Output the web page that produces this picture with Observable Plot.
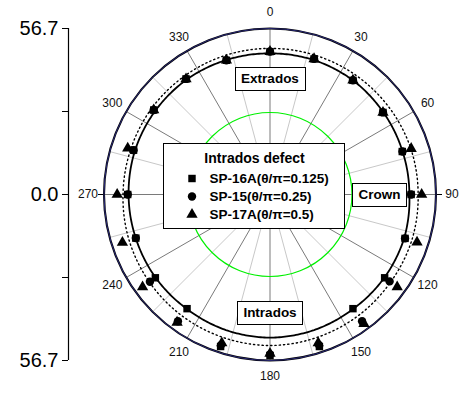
<!DOCTYPE html>
<html>
<head>
<meta charset="utf-8">
<script src="https://cdn.jsdelivr.net/npm/d3@7"></script>
<script src="https://cdn.jsdelivr.net/npm/@observablehq/plot@0.6"></script>
<style>
  body { margin: 0; background: #fff; }
  #chart svg { display: block; }
</style>
</head>
<body>
<div id="chart"></div>
<script>
// Measurement angles, degrees clockwise from the extrados (top)
const angles = [0, 18, 36, 54, 72, 90, 108, 126, 144, 162, 180, 198, 216, 234, 252, 270, 288, 306, 324, 342];

// Radial readings per specimen at each angle
const sp16A = [48.8, 48.7, 48.2, 47.7, 47.5, 48.2, 48.5, 48.4, 48.2, 54.6, 55.0, 54.6, 48.2, 48.4, 48.2, 48.6, 49.0, 49.1, 48.8, 48.2];
const sp15  = [48.8, 48.7, 48.2, 47.7, 47.6, 48.2, 48.5, 50.5, 53.5, 54.0, 54.6, 54.0, 53.5, 50.7, 48.2, 48.6, 49.0, 49.1, 48.8, 48.2];
const sp17A = [48.8, 48.7, 48.2, 47.7, 50.7, 51.8, 52.8, 53.7, 54.6, 53.3, 54.3, 53.3, 54.0, 53.8, 53.0, 52.2, 51.1, 49.1, 48.8, 48.2];

// Reference profiles (solid and dotted outlines)
const solidProfile  = [48.2, 48.3, 48.2, 47.8, 47.6, 47.6, 48.2, 48.3, 48.3, 48.7, 48.9, 48.7, 48.3, 48.3, 48.2, 48.3, 48.5, 48.5, 48.5, 48.3];
const dottedProfile = [49.9, 50.0, 50.2, 50.4, 50.6, 50.6, 50.9, 50.9, 51.2, 51.4, 51.6, 51.4, 51.2, 50.9, 50.6, 50.2, 50.0, 50.0, 49.9, 49.9];

// Inner reference ring
const referenceRing = 28;

// Radial axis
const radialMax = 56.7;
const radialTicks = [-56.7, -28.35, 0, 28.35, 56.7];
const radialTickLabels = ["56.7", "", "0.0", "", "56.7"];

// Angular grid and labels
const angleGrid = d3.range(0, 360, 15);
const angleLabels = [0, 30, 60, 90, 120, 150, 180, 210, 240, 270, 300, 330];
const angleTickMarks = [90, 270];

// Series legend
const legendTitle = "Intrados defect";
const seriesNames = ["SP-16A(θ/π=0.125)", "SP-15(θ/π=0.25)", "SP-17A(θ/π=0.5)"];
const seriesSymbols = ["square", "circle", "triangle"];

// Region annotations
const regionNames = ["Extrados", "Crown", "Intrados"];
const regionAngles = [0, 90, 180];
const regionRadii = [39.6, 37.4, 40.2];

// ---- layout ----
const W = 460, H = 394;
const cx = 269.5, cy = 194, R = 166, axisX = 68;
const unit = radialMax / R;               // data units per pixel
const xMin = -(cx - axisX) * unit;
const labelR = 182 * unit;
const tickLen = 6 * unit;

const rad = Math.PI / 180;
const px = (a, v) => v * Math.sin(a * rad);
const py = (a, v) => v * Math.cos(a * rad);

// Closed curve that joins successive vertices linearly in (angle, radius)
// about the plot centre, so segments follow the polar grid.
function curvePolarClosed(context) {
  let pts = [];
  return {
    areaStart() {}, areaEnd() {},
    lineStart() { pts = []; },
    point(x, y) { pts.push([x, y]); },
    lineEnd() {
      const n = pts.length;
      if (!n) return;
      const pol = pts.map(([x, y]) => [Math.atan2(x - cx, cy - y), Math.hypot(x - cx, y - cy)]);
      const steps = 24;
      context.moveTo(pts[0][0], pts[0][1]);
      for (let i = 0; i < n; ++i) {
        const [a0, r0] = pol[i];
        const [a1, r1] = pol[(i + 1) % n];
        let da = a1 - a0;
        while (da > Math.PI) da -= 2 * Math.PI;
        while (da <= -Math.PI) da += 2 * Math.PI;
        for (let k = 1; k <= steps; ++k) {
          const t = k / steps;
          const a = a0 + da * t, r = r0 + (r1 - r0) * t;
          context.lineTo(cx + r * Math.sin(a), cy - r * Math.cos(a));
        }
      }
      context.closePath();
    }
  };
}

// point table for the three specimens (drawn triangle, circle, square order)
const seriesValues = [sp16A, sp15, sp17A];
const points = [2, 1, 0].flatMap(s => angles.map((a, i) => ({series: seriesNames[s], angle: a, value: seriesValues[s][i]})));

const legendBox = {left: 163.5, top: 143.5, width: 181, height: 85};
const legendRows = [178, 196, 214];
const top0 = cy - R;

const plot = Plot.plot({
  width: W,
  height: H,
  marginLeft: axisX,
  marginRight: W - cx - R,
  marginTop: cy - R,
  marginBottom: H - cy - R,
  style: {fontFamily: "'Liberation Sans', Arial, sans-serif", fontSize: "12px", overflow: "visible", background: "white"},
  x: {domain: [xMin, radialMax], axis: null},
  y: {domain: [-radialMax, radialMax], axis: null},
  r: {type: "linear", domain: [0, radialMax], range: [0, R]},
  symbol: {domain: seriesNames, range: seriesSymbols},
  marks: [
    // radial axis on the left
    Plot.ruleX([xMin], {y1: -radialMax, y2: radialMax, stroke: "black", strokeWidth: 1.2}),
    Plot.axisY(radialTicks, {
      anchor: "left",
      tickSize: 6,
      tickPadding: 4,
      fontSize: 20,
      tickFormat: d => radialTickLabels[radialTicks.indexOf(d)],
      label: null,
      stroke: "black"
    }),
    // angular grid spokes
    Plot.link(angleGrid.filter(a => a % 30 !== 0), {
      x1: () => 0, y1: () => 0,
      x2: a => px(a, radialMax), y2: a => py(a, radialMax),
      stroke: "#c8c8c8", strokeWidth: 1
    }),
    Plot.link(angleGrid.filter(a => a % 30 === 0), {
      x1: () => 0, y1: () => 0,
      x2: a => px(a, radialMax), y2: a => py(a, radialMax),
      stroke: "#7a7a7a", strokeWidth: 1
    }),
    // ticks on the outer circle
    Plot.link(angleTickMarks, {
      x1: a => px(a, radialMax), y1: a => py(a, radialMax),
      x2: a => px(a, radialMax + tickLen), y2: a => py(a, radialMax + tickLen),
      stroke: "black", strokeWidth: 1
    }),
    // inner reference ring
    Plot.dot([referenceRing], {x: () => 0, y: () => 0, r: d => d, stroke: "#00f000", strokeWidth: 1.2, fill: "none"}),
    // outer boundary
    Plot.dot([radialMax], {x: () => 0, y: () => 0, r: d => d, stroke: "black", strokeWidth: 2.1, fill: "none"}),
    Plot.dot([radialMax], {x: () => 0, y: () => 0, r: d => d, stroke: "#3a3aa8", strokeWidth: 0.7, fill: "none"}),
    // angle labels
    Plot.text(angleLabels, {
      x: a => px(a, labelR), y: a => py(a, labelR),
      text: a => String(a), fontSize: 12, fill: "#111"
    }),
    // profiles
    Plot.line(angles, {
      x: (a, i) => px(a, dottedProfile[i]), y: (a, i) => py(a, dottedProfile[i]),
      curve: curvePolarClosed, stroke: "black", strokeWidth: 1.4, strokeDasharray: "1.3,3"
    }),
    Plot.line(angles, {
      x: (a, i) => px(a, solidProfile[i]), y: (a, i) => py(a, solidProfile[i]),
      curve: curvePolarClosed, stroke: "black", strokeWidth: 1.8
    }),
    // specimen readings
    Plot.dot(points, {
      x: d => px(d.angle, d.value), y: d => py(d.angle, d.value),
      symbol: "series", fill: "black", r: 4.2
    }),
    // region annotations
    Plot.text(regionNames, {
      x: (d, i) => px(regionAngles[i], regionRadii[i]), y: (d, i) => py(regionAngles[i], regionRadii[i]),
      text: d => d, fontWeight: "bold", fontSize: 13.5, fill: "black",
      ariaDescription: "boxed"
    }),
    // legend
    Plot.text([legendTitle], {
      frameAnchor: "top-left", dx: legendBox.left + legendBox.width / 2 - axisX, dy: 158 - top0,
      textAnchor: "middle", lineAnchor: "middle",
      text: d => d, fontWeight: "bold", fontSize: 14, fill: "black", ariaDescription: "legend"
    }),
    ...seriesNames.map((name, i) => Plot.dot([name], {
      frameAnchor: "top-left", dx: 191.5 - axisX, dy: legendRows[i] - top0,
      symbol: d => d, fill: "black", r: 4.2
    })),
    ...seriesNames.map((name, i) => Plot.text([name], {
      frameAnchor: "top-left", dx: 209 - axisX, dy: legendRows[i] - top0,
      textAnchor: "start", lineAnchor: "middle",
      text: d => d, fontWeight: "bold", fontSize: 13.5, fill: "black"
    }))
  ]
});

document.getElementById("chart").append(plot);

// white boxes behind the region annotations and the legend
const ns = "http://www.w3.org/2000/svg";
const svgRect = plot.getBoundingClientRect();
plot.querySelectorAll('g[aria-description="boxed"]').forEach(g => {
  const frames = document.createElementNS(ns, "g");
  g.querySelectorAll("text").forEach(t => {
    const b = t.getBoundingClientRect();
    const r = document.createElementNS(ns, "rect");
    r.setAttribute("x", Math.round(b.left - svgRect.left - 6) + 0.5);
    r.setAttribute("y", Math.round(b.top - svgRect.top - 4) + 0.5);
    r.setAttribute("width", Math.round(b.width + 12));
    r.setAttribute("height", Math.round(b.height + 8));
    r.setAttribute("fill", "white");
    r.setAttribute("stroke", "black");
    r.setAttribute("stroke-width", "1");
    frames.append(r);
  });
  g.parentNode.insertBefore(frames, g);
});
const legendStart = plot.querySelector('g[aria-description="legend"]');
if (legendStart) {
  const r = document.createElementNS(ns, "rect");
  r.setAttribute("x", legendBox.left);
  r.setAttribute("y", legendBox.top);
  r.setAttribute("width", legendBox.width);
  r.setAttribute("height", legendBox.height);
  r.setAttribute("fill", "white");
  r.setAttribute("stroke", "black");
  r.setAttribute("stroke-width", "1");
  legendStart.parentNode.insertBefore(r, legendStart);
}
</script>
</body>
</html>
